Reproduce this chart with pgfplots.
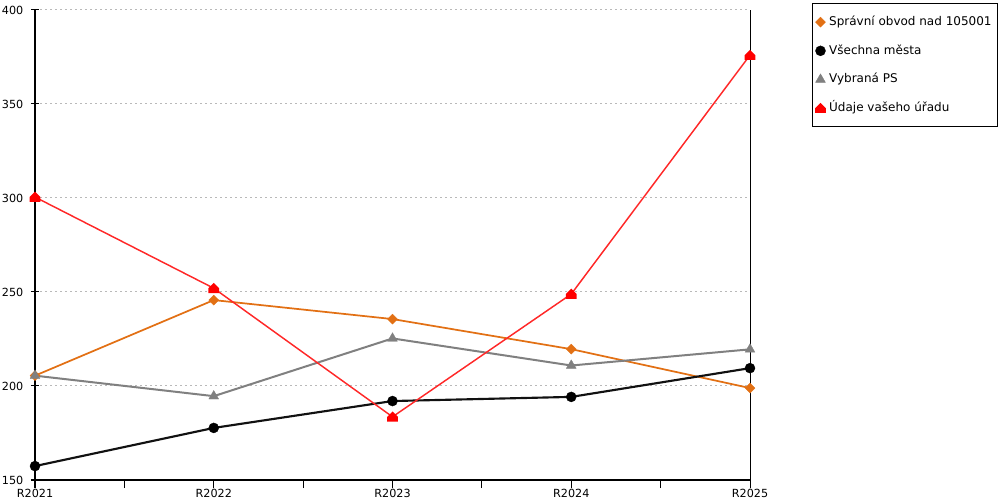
\documentclass[border=0pt]{standalone}
\usepackage{pgfplots}
\pgfplotsset{compat=1.18}
\usepackage{fontspec}
\setmainfont{DejaVu Sans}
\definecolor{cor}{RGB}{226,112,20}
\definecolor{cgr}{RGB}{128,128,128}
\definecolor{cbl}{RGB}{17,17,17}
\definecolor{cred}{RGB}{255,0,0}
\definecolor{credl}{RGB}{255,40,40}
\pgfdeclareplotmark{house}{%
 \pgfpathmoveto{\pgfqpoint{-\pgfplotmarksize}{-0.9\pgfplotmarksize}}%
 \pgfpathlineto{\pgfqpoint{\pgfplotmarksize}{-0.9\pgfplotmarksize}}%
 \pgfpathlineto{\pgfqpoint{\pgfplotmarksize}{0pt}}%
 \pgfpathlineto{\pgfqpoint{0pt}{\pgfplotmarksize}}%
 \pgfpathlineto{\pgfqpoint{-\pgfplotmarksize}{0pt}}%
 \pgfpathclose
 \pgfusepathqfill}
\begin{document}
\begin{tikzpicture}
\path[use as bounding box] (0,0) rectangle (750pt,375pt);
\begin{axis}[
  at={(26.25pt,15pt)}, anchor=south west,
  scale only axis, width=536.25pt, height=352.5pt,
  xmin=0, xmax=4, ymin=150, ymax=400,
  /pgf/number format/assume math mode=true,
  axis x line*=bottom, axis y line*=left,
  xtick={0,1,2,3,4}, xticklabels={R2021,R2022,R2023,R2024,R2025},
  minor xtick={0.5,1.5,2.5,3.5},
  ytick={150,200,250,300,350,400},
  xtick align=outside, ytick align=center,
  major tick length=6pt, minor tick length=6pt,
  tick style={black, line width=0.75pt},
  axis line style={black, line width=0.75pt},
  ymajorgrids,
  major grid style={gray!55, line width=0.75pt, dash pattern=on 1.5pt off 2.25pt},
  tick label style={font=\fontsize{8.4}{10}\selectfont, text=black},
  yticklabel style={xshift=-2.2pt},
  xticklabel style={yshift=2.5pt},
  legend cell align=left,
  legend image code/.code={\draw[#1, only marks] plot coordinates {(0.1cm,0cm)};},
  legend style={at={(1.0867,1.0149)}, anchor=north west, draw=black, line width=0.75pt,
    font=\fontsize{9}{11}\selectfont, row sep=7.5pt, inner xsep=2pt, inner ysep=7pt,
    nodes={text height=7pt, text depth=2pt, inner sep=2.5pt, line width=0.75pt}},
  clip=false,
]
\addplot[color=cor, line width=1.3pt, mark=square*, mark size=2.65pt, mark options={rotate=45, fill=cor, draw=cor, line width=0.2pt}]
  coordinates {(0,205.5) (1,245.7) (2,235.6) (3,219.6) (4,198.9)};
\addlegendentry{Správní obvod nad 105001}
\addplot[color=cbl, line width=1.6pt, mark=*, mark size=3.8pt, mark options={fill=black, draw=black, line width=0.2pt}]
  coordinates {(0,157.4) (1,177.7) (2,192.0) (3,194.2) (4,209.5)};
\addlegendentry{Všechna města}
\addplot[color=cgr, line width=1.5pt, mark=triangle*, mark size=4.3pt, mark options={fill=cgr, draw=cgr, line width=0.2pt}]
  coordinates {(0,205.5) (1,194.6) (2,225.3) (3,210.9) (4,219.5)};
\addlegendentry{Vybraná PS}
\addplot[color=credl, line width=1.1pt, mark=house, mark size=4pt, mark options={fill=cred, draw=cred, line width=0.2pt}]
  coordinates {(0,300.5) (1,252.0) (2,183.6) (3,248.9) (4,376.0)};
\addlegendentry{Údaje vašeho úřadu}
\draw[black, line width=0.75pt] (rel axis cs:1,0) -- (rel axis cs:1,1);
\end{axis}
\end{tikzpicture}
\end{document}
